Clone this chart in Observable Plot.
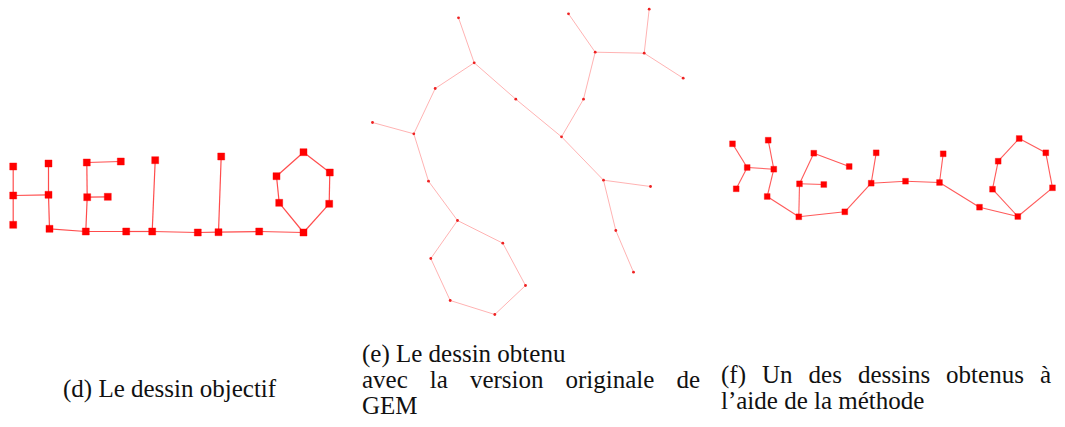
<!DOCTYPE html>
<html>
<head>
<meta charset="utf-8">
<script src="https://cdn.jsdelivr.net/npm/d3@7"></script>
<script src="https://cdn.jsdelivr.net/npm/@observablehq/plot@0.6"></script>
<style>
  body { margin: 0; background: #fff; }
  #wrap { position: relative; width: 1065px; height: 427px; overflow: hidden; }
  #chart { position: absolute; left: 0; top: 0; }
  .cap { position: absolute; font-family: "Liberation Serif", serif; font-size: 25px; line-height: 26px; color: #111; white-space: nowrap; }
  .just { text-align: justify; text-align-last: justify; white-space: normal; }
</style>
</head>
<body>
<div id="wrap">
  <div id="chart"></div>
  <div class="cap" style="left:63px; top:375.6px;">(d) Le dessin objectif</div>
  <div class="cap" style="left:362px; top:340.6px;">(e) Le dessin obtenu</div>
  <div class="cap just" style="left:362px; top:366.6px; width:338px;">avec la version originale de</div>
  <div class="cap" style="left:362px; top:392.6px;">GEM</div>
  <div class="cap just" style="left:721px; top:361.6px; width:330px;">(f) Un des dessins obtenus à</div>
  <div class="cap" style="left:721px; top:387.6px;">l’aide de la méthode</div>
</div>
<script>
// Node names of the "HELLO" graph (same graph in all three drawings)
const nodes = ["Hlt","Hlm","Hlb","Hrt","Hrm","Hrb","Et","Etr","Em","Emr","Eb","b1",
               "L1t","L1b","b2","L2t","L2b","b3","Ob","Orl","Oru","Ot","Oul","Oll"];

// Edges (from, to)
const edgeFrom = ["Hlt","Hlm","Hlm","Hrt","Hrm","Hrb","Et","Et","Em","Em","Eb","b1",
                  "L1b","L1b","b2","L2b","L2b","b3","Ob","Orl","Oru","Ot","Oul","Oll"];
const edgeTo   = ["Hlm","Hlb","Hrm","Hrm","Hrb","Eb","Etr","Em","Emr","Eb","b1","L1b",
                  "L1t","b2","L2b","L2t","b3","Ob","Orl","Oru","Ot","Oul","Oll","Ob"];

// (d) target drawing
const dX = [12.7,12.7,12.7,48,48,49,86.3,120.3,86.7,107.3,85.3,125.7,
            154.7,151.7,197.3,220.7,218,258.7,303,328.7,329.3,303,276,278.7];
const dY = [166,195,224.3,163,194.3,228.3,162,161,196.7,196.3,231,231,
            159.7,231,232,156,231.7,231,232,203.3,172,151.7,175.7,202.3];

// (e) drawing from the original GEM
const eX = [648.7,643.7,682.7,568,594.7,583,615.3,633,603,650,561,515.3,
            458,473.7,434.7,372,413.3,428,457,502.3,525,494.3,449.7,430.3];
const eY = [8.7,52.7,77.7,13.3,51.7,98.7,230,271.7,179.7,186,136.3,98.7,
            17.3,62.3,88,122,133.3,180.7,220,242.7,285,314,300,258];

// (f) drawing obtained with the method
const fX = [732,746.7,735.7,767.7,773.3,766.7,813.3,848.7,799,823.3,798.3,844.3,
            875.7,870.7,905,942.7,939,979,1017.3,1052,1045.3,1018.7,997.7,992];
const fY = [143.3,167,188.3,139.7,168.7,196,152.7,166,183.3,184,216.3,211.3,
            152.3,182.7,180.7,153.3,182,206.7,216,187.3,152.3,138,160.7,188.7];

const idx = new Map(nodes.map((n, i) => [n, i]));
function pts(X, Y) { return nodes.map((n, i) => ({name: n, x: X[i], y: Y[i]})); }
function links(X, Y) {
  return edgeFrom.map((a, k) => {
    const i = idx.get(a), j = idx.get(edgeTo[k]);
    return {x1: X[i], y1: Y[i], x2: X[j], y2: Y[j]};
  });
}

const chart = Plot.plot({
  width: 1065,
  height: 335,
  margin: 0,
  x: {domain: [0, 1065], range: [0, 1065]},
  y: {domain: [0, 335], range: [0, 335]},
  axis: null,
  marks: [
    Plot.link(links(dX, dY), {x1: "x1", y1: "y1", x2: "x2", y2: "y2", stroke: "#ff0000", strokeOpacity: 0.7, strokeWidth: 1.2}),
    Plot.dot(pts(dX, dY), {x: "x", y: "y", symbol: "square", r: 4, fill: "#ff0000", stroke: "#ff0000", strokeOpacity: 0.3, strokeWidth: 1}),
    Plot.link(links(eX, eY), {x1: "x1", y1: "y1", x2: "x2", y2: "y2", stroke: "#ff0000", strokeOpacity: 0.3, strokeWidth: 1}),
    Plot.dot(pts(eX, eY), {x: "x", y: "y", r: 1.4, fill: "#ee2222"}),
    Plot.link(links(fX, fY), {x1: "x1", y1: "y1", x2: "x2", y2: "y2", stroke: "#ff0000", strokeOpacity: 0.65, strokeWidth: 1.1}),
    Plot.dot(pts(fX, fY), {x: "x", y: "y", symbol: "square", r: 3.3, fill: "#ff0000", stroke: "#ff0000", strokeOpacity: 0.3, strokeWidth: 1})
  ]
});
document.getElementById("chart").appendChild(chart);
</script>
</body>
</html>
